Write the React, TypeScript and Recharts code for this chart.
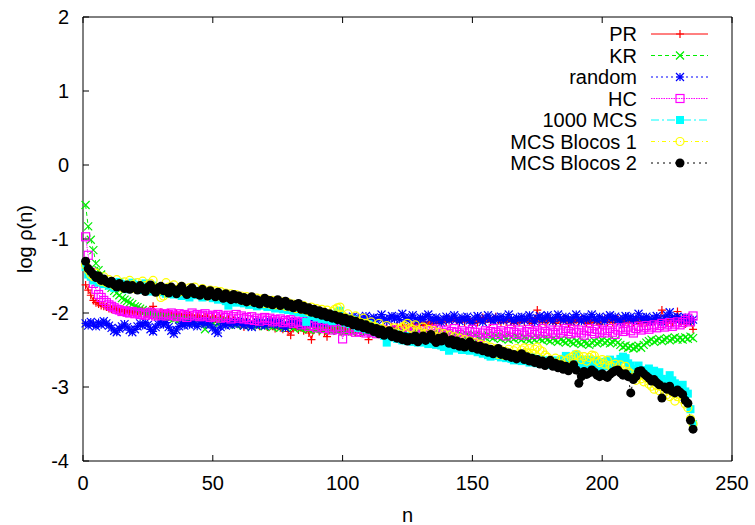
import React from 'react';
import { LineChart, Line, XAxis, YAxis } from 'recharts';

// log rho(n) values in hundredths, n = 1..235
const PR = [
  -162,-169,-176,-183,-186,-188,-190,-191,-192,-194,
  -195,-194,-196,-197,-195,-198,-196,-199,-197,-199,
  -198,-200,-197,-201,-199,-198,-191,-200,-202,-199,
  -201,-203,-200,-202,-204,-201,-203,-205,-202,-204,
  -203,-205,-207,-204,-206,-208,-205,-207,-209,-206,
  -208,-210,-207,-209,-211,-208,-212,-210,-213,-211,
  -214,-219,-212,-215,-217,-213,-216,-218,-215,-217,
  -219,-216,-218,-221,-217,-220,-222,-218,-225,-230,
  -221,-219,-223,-220,-224,-222,-227,-236,-223,-221,
  -225,-222,-226,-232,-223,-220,-224,-221,-225,-222,
  -224,-221,-225,-222,-226,-223,-227,-224,-221,-236,
  -223,-226,-222,-225,-221,-224,-220,-223,-219,-222,
  -218,-221,-217,-220,-216,-219,-215,-218,-214,-217,
  -213,-216,-212,-215,-211,-214,-210,-213,-209,-212,
  -208,-211,-207,-210,-213,-209,-212,-208,-211,-214,
  -210,-213,-209,-206,-211,-208,-212,-209,-205,-210,
  -213,-209,-212,-208,-211,-214,-210,-213,-209,-212,
  -208,-211,-214,-210,-196,-212,-209,-213,-210,-207,
  -211,-214,-209,-212,-208,-211,-215,-210,-213,-209,
  -212,-208,-211,-214,-210,-213,-209,-212,-215,-211,
  -208,-212,-209,-213,-210,-207,-211,-214,-210,-213,
  -209,-212,-208,-211,-214,-210,-213,-209,-212,-210,
  -207,-211,-196,-210,-213,-209,-212,-208,-198,-211,
  -207,-215,-210,-212,-222,
];

const KR = [
  -54,-83,-101,-115,-133,-142,-148,-156,-160,-163,
  -166,-170,-173,-176,-180,-182,-184,-186,-188,-191,
  -192,-194,-196,-198,-199,-201,-202,-203,-204,-205,
  -206,-205,-207,-206,-208,-207,-209,-208,-210,-209,
  -211,-209,-212,-210,-213,-211,-222,-212,-210,-213,
  -211,-214,-212,-210,-213,-215,-212,-214,-216,-213,
  -215,-217,-214,-216,-218,-215,-217,-214,-216,-218,
  -215,-217,-219,-216,-218,-220,-217,-219,-216,-218,
  -220,-217,-219,-221,-218,-220,-222,-219,-221,-223,
  -220,-222,-219,-221,-223,-220,-222,-224,-221,-223,
  -225,-222,-224,-221,-223,-225,-222,-224,-226,-223,
  -225,-227,-224,-226,-228,-225,-227,-224,-226,-228,
  -225,-227,-229,-226,-228,-225,-227,-229,-226,-228,
  -230,-227,-229,-231,-228,-230,-227,-229,-231,-228,
  -230,-232,-229,-231,-233,-230,-232,-229,-231,-233,
  -230,-232,-234,-231,-233,-230,-232,-234,-231,-233,
  -235,-232,-234,-236,-233,-235,-232,-234,-236,-233,
  -235,-237,-234,-236,-233,-235,-237,-234,-236,-238,
  -235,-237,-239,-236,-238,-240,-237,-239,-241,-238,
  -240,-242,-239,-241,-243,-240,-238,-241,-239,-237,
  -240,-238,-241,-239,-237,-240,-243,-246,-244,-247,
  -245,-248,-246,-244,-247,-243,-240,-238,-236,-239,
  -237,-235,-238,-236,-234,-237,-235,-233,-236,-234,
  -236,-233,-235,-232,-234,
];

const RANDOM = [
  -214,-217,-212,-215,-218,-213,-216,-211,-214,-217,
  -220,-224,-226,-221,-218,-215,-219,-223,-226,-222,
  -218,-214,-217,-213,-216,-222,-225,-219,-215,-212,
  -216,-213,-219,-224,-228,-223,-218,-214,-217,-213,
  -216,-212,-215,-218,-214,-211,-215,-212,-216,-220,
  -224,-227,-219,-214,-217,-213,-216,-212,-215,-211,
  -214,-217,-213,-216,-219,-215,-212,-216,-213,-217,
  -214,-211,-215,-212,-216,-213,-217,-220,-216,-212,
  -215,-211,-214,-217,-213,-210,-214,-211,-215,-212,
  -209,-213,-210,-214,-211,-208,-212,-209,-206,-210,
  -207,-211,-208,-205,-209,-206,-210,-207,-204,-208,
  -209,-206,-210,-207,-202,-208,-211,-207,-204,-208,
  -205,-209,-201,-206,-210,-207,-203,-208,-211,-206,
  -209,-205,-202,-207,-210,-206,-209,-213,-208,-205,
  -210,-207,-203,-208,-211,-206,-209,-205,-210,-213,
  -207,-204,-209,-212,-207,-203,-208,-211,-206,-209,
  -205,-210,-207,-202,-208,-211,-206,-209,-205,-210,
  -207,-203,-208,-212,-207,-204,-209,-206,-203,-208,
  -211,-206,-202,-207,-210,-205,-208,-211,-206,-202,
  -208,-211,-205,-209,-206,-202,-207,-210,-205,-208,
  -211,-206,-203,-208,-205,-209,-212,-207,-204,-208,
  -205,-210,-207,-201,-206,-209,-205,-208,-211,-207,
  -204,-208,-212,-207,-203,-199,-206,-209,-205,-207,
  -210,-206,-208,-211,-209,
];

const HC = [
  -97,-122,-145,-160,-168,-175,-179,-183,-186,-189,
  -191,-193,-195,-196,-198,-197,-199,-200,-198,-201,
  -199,-202,-200,-203,-201,-199,-202,-204,-200,-203,
  -201,-204,-202,-200,-203,-205,-201,-204,-202,-206,
  -203,-200,-204,-202,-205,-203,-201,-204,-206,-203,
  -205,-202,-207,-204,-206,-203,-208,-205,-202,-207,
  -204,-208,-206,-209,-205,-210,-207,-211,-208,-206,
  -210,-207,-212,-209,-211,-208,-213,-210,-212,-209,
  -214,-211,-213,-216,-212,-215,-218,-214,-217,-220,
  -215,-218,-221,-217,-220,-223,-219,-222,-218,-235,
  -221,-224,-219,-223,-226,-222,-225,-221,-227,-224,
  -226,-223,-228,-225,-222,-227,-224,-229,-226,-223,
  -228,-225,-230,-226,-223,-228,-225,-222,-227,-231,
  -226,-229,-224,-228,-225,-222,-227,-230,-226,-223,
  -228,-225,-221,-226,-229,-224,-227,-231,-225,-222,
  -226,-230,-233,-227,-224,-228,-225,-221,-226,-229,
  -224,-227,-231,-225,-222,-226,-229,-223,-227,-230,
  -225,-222,-226,-229,-224,-227,-221,-225,-228,-223,
  -226,-229,-223,-227,-224,-221,-225,-228,-222,-226,
  -223,-227,-230,-224,-221,-225,-228,-222,-226,-223,
  -227,-224,-221,-226,-229,-223,-220,-225,-222,-219,
  -224,-227,-221,-218,-223,-220,-217,-222,-219,-216,
  -220,-217,-214,-219,-216,-213,-218,-215,-212,-216,
  -213,-210,-207,-212,-204,
];

const MCS1000 = [
  -138,-148,-151,-156,-153,-159,-156,-161,-158,-163,
  -160,-166,-162,-158,-165,-161,-168,-163,-159,-166,
  -162,-169,-164,-160,-167,-171,-163,-168,-165,-172,
  -168,-174,-166,-171,-175,-168,-173,-177,-170,-176,
  -179,-171,-176,-170,-175,-179,-172,-177,-174,-180,
  -176,-182,-175,-180,-184,-190,-177,-183,-186,-179,
  -183,-187,-181,-189,-184,-188,-191,-184,-190,-186,
  -192,-186,-190,-194,-187,-192,-195,-189,-196,-191,
  -197,-192,-199,-194,-200,-212,-198,-204,-199,-206,
  -202,-208,-201,-209,-204,-211,-205,-199,-197,-210,
  -213,-207,-215,-209,-217,-220,-213,-219,-222,-215,
  -223,-218,-226,-221,-228,-231,-240,-226,-233,-227,
  -235,-229,-237,-231,-238,-233,-239,-232,-240,-235,
  -234,-240,-242,-235,-241,-243,-236,-244,-246,-239,
  -251,-242,-248,-241,-247,-250,-243,-249,-251,-245,
  -250,-253,-247,-255,-249,-257,-259,-251,-256,-258,
  -260,-254,-261,-256,-262,-264,-257,-263,-265,-259,
  -264,-267,-260,-266,-268,-262,-269,-264,-270,-265,
  -270,-264,-272,-266,-262,-258,-267,-271,-262,-256,
  -263,-268,-272,-263,-270,-273,-264,-271,-274,-266,
  -272,-265,-263,-270,-273,-266,-262,-259,-261,-268,
  -271,-276,-278,-271,-277,-279,-282,-275,-284,-278,
  -286,-280,-289,-292,-293,-284,-291,-295,-298,-302,
  -297,-306,-309,-330,-350,
];

const BLOCOS1 = [
  -135,-142,-148,-151,-146,-153,-157,-151,-159,-155,
  -160,-163,-155,-161,-166,-158,-164,-156,-162,-167,
  -159,-165,-157,-163,-168,-160,-156,-166,-170,-179,
  -177,-159,-165,-170,-162,-168,-172,-164,-170,-174,
  -166,-172,-165,-171,-175,-167,-173,-177,-169,-175,
  -170,-177,-171,-178,-173,-179,-174,-180,-175,-181,
  -177,-183,-178,-184,-179,-185,-180,-186,-181,-187,
  -182,-188,-183,-189,-184,-190,-185,-191,-186,-192,
  -188,-194,-189,-195,-190,-196,-198,-192,-199,-194,
  -200,-195,-202,-196,-203,-198,-195,-193,-192,-203,
  -206,-201,-208,-210,-204,-211,-213,-207,-214,-216,
  -212,-218,-220,-214,-221,-223,-217,-224,-226,-220,
  -227,-222,-219,-217,-214,-220,-222,-216,-223,-226,
  -219,-228,-222,-230,-224,-232,-226,-234,-228,-236,
  -230,-238,-232,-240,-234,-242,-236,-244,-238,-246,
  -240,-248,-242,-250,-244,-252,-246,-254,-248,-256,
  -250,-257,-252,-249,-256,-251,-248,-255,-250,-247,
  -254,-248,-255,-249,-246,-250,-252,-257,-260,-264,
  -267,-261,-268,-263,-270,-265,-262,-260,-258,-256,
  -258,-263,-259,-265,-260,-257,-258,-264,-267,-263,
  -269,-264,-271,-273,-269,-276,-270,-277,-272,-279,
  -282,-287,-291,-283,-289,-293,-288,-296,-299,-303,
  -298,-305,-300,-307,-310,-313,-307,-319,-313,-310,
  -317,-323,-328,-343,-350,
];

const BLOCOS2 = [
  -130,-140,-144,-148,-152,-150,-156,-154,-158,-160,
  -157,-162,-165,-160,-164,-167,-162,-168,-163,-166,
  -169,-163,-167,-171,-165,-162,-168,-172,-166,-164,
  -170,-167,-173,-165,-169,-174,-168,-164,-171,-175,
  -169,-166,-174,-171,-176,-168,-173,-177,-170,-175,
  -178,-172,-176,-180,-174,-179,-182,-175,-181,-177,
  -183,-179,-185,-181,-178,-186,-182,-188,-184,-180,
  -187,-183,-189,-185,-182,-190,-186,-184,-191,-188,
  -193,-189,-187,-195,-191,-196,-193,-199,-195,-201,
  -197,-203,-199,-205,-201,-207,-203,-209,-205,-211,
  -207,-213,-209,-216,-211,-218,-214,-220,-216,-222,
  -219,-225,-221,-228,-223,-230,-226,-224,-232,-228,
  -234,-230,-236,-232,-238,-233,-236,-231,-239,-235,
  -231,-237,-233,-229,-236,-240,-234,-238,-232,-237,
  -241,-236,-243,-238,-245,-240,-246,-242,-239,-247,
  -244,-249,-245,-251,-247,-253,-249,-255,-251,-248,
  -256,-252,-258,-254,-260,-256,-262,-258,-255,-263,
  -259,-265,-261,-267,-263,-269,-265,-271,-267,-264,
  -272,-268,-274,-270,-276,-272,-278,-274,-270,-277,
  -295,-286,-279,-283,-281,-277,-280,-284,-286,-282,
  -285,-287,-283,-280,-278,-277,-281,-284,-282,-286,
  -308,-290,-286,-279,-278,-282,-285,-288,-292,-290,
  -294,-297,-315,-300,-303,-299,-306,-308,-304,-307,
  -310,-318,-322,-345,-357,
];

const X_TICKS = [0, 50, 100, 150, 200, 250];
const Y_TICKS = [-4, -3, -2, -1, 0, 1, 2];

type Shape = 'plus' | 'cross' | 'star' | 'box' | 'fbox' | 'circle' | 'fcircle';

const SERIES: { key: string; name: string; values: number[]; color: string; dash?: string; shape: Shape }[] = [
  { key: 'pr', name: 'PR', values: PR, color: '#ff0000', shape: 'plus' },
  { key: 'kr', name: 'KR', values: KR, color: '#00ee00', dash: '4 3', shape: 'cross' },
  { key: 'rnd', name: 'random', values: RANDOM, color: '#0000ff', dash: '2 3', shape: 'star' },
  { key: 'hc', name: 'HC', values: HC, color: '#ff00ff', dash: '1.5 1', shape: 'box' },
  { key: 'm1000', name: '1000 MCS', values: MCS1000, color: '#00ffff', dash: '8 3 2 3', shape: 'fbox' },
  { key: 'b1', name: 'MCS Blocos 1', values: BLOCOS1, color: '#ffff00', dash: '4 3 1 3', shape: 'circle' },
  { key: 'b2', name: 'MCS Blocos 2', values: BLOCOS2, color: '#000000', dash: '2 4', shape: 'fcircle' },
];

const data = PR.map((_, i) => {
  const row: Record<string, number> = { n: i + 1 };
  SERIES.forEach((s) => {
    row[s.key] = s.values[i] / 100;
  });
  return row;
});

const FONT = '"Liberation Sans", Arial, Helvetica, sans-serif';

function Marker({ shape, cx, cy, color }: { shape: Shape; cx: number; cy: number; color: string }) {
  const s = 4;
  if (cx == null || cy == null || isNaN(cx) || isNaN(cy)) return null;
  switch (shape) {
    case 'plus':
      return <path d={`M${cx - s},${cy}H${cx + s}M${cx},${cy - s}V${cy + s}`} stroke={color} strokeWidth={1.2} fill="none" />;
    case 'cross':
      return <path d={`M${cx - s},${cy - s}L${cx + s},${cy + s}M${cx - s},${cy + s}L${cx + s},${cy - s}`} stroke={color} strokeWidth={1.2} fill="none" />;
    case 'star':
      return (
        <path
          d={`M${cx - s},${cy}H${cx + s}M${cx},${cy - s}V${cy + s}M${cx - s},${cy - s}L${cx + s},${cy + s}M${cx - s},${cy + s}L${cx + s},${cy - s}`}
          stroke={color}
          strokeWidth={1.2}
          fill="none"
        />
      );
    case 'box':
      return <rect x={cx - s} y={cy - s} width={2 * s} height={2 * s} stroke={color} strokeWidth={1.2} fill="none" />;
    case 'fbox':
      return <rect x={cx - s} y={cy - s} width={2 * s} height={2 * s} fill={color} stroke="none" />;
    case 'circle':
      return <circle cx={cx} cy={cy} r={s} stroke={color} strokeWidth={1.2} fill="none" />;
    case 'fcircle':
      return <circle cx={cx} cy={cy} r={4.5} fill={color} stroke="none" />;
  }
  return null;
}

const PLOT = { left: 83, right: 732, top: 17, bottom: 461 };
const W = 755;
const H = 525;
const TICK = 6;
const AX = 1; // axis thickness reserved for each axis

const XTickBottom = (p: any) => (
  <g>
    <line x1={p.x} x2={p.x} y1={PLOT.bottom} y2={PLOT.bottom - TICK} stroke="#000" />
    <text x={p.x} y={PLOT.bottom + 22} textAnchor="middle" dy="0.35em" fontSize={20} fontFamily={FONT} fill="#000">
      {p.payload.value}
    </text>
  </g>
);
const XTickTop = (p: any) => <line x1={p.x} x2={p.x} y1={PLOT.top} y2={PLOT.top + TICK} stroke="#000" />;
const YTickLeft = (p: any) => (
  <g>
    <line x1={PLOT.left} x2={PLOT.left + TICK} y1={p.y} y2={p.y} stroke="#000" />
    <text x={PLOT.left - 14} y={p.y} textAnchor="end" dy="0.35em" fontSize={20} fontFamily={FONT} fill="#000">
      {p.payload.value}
    </text>
  </g>
);
const YTickRight = (p: any) => <line x1={PLOT.right} x2={PLOT.right - TICK} y1={p.y} y2={p.y} stroke="#000" />;

function LegendOverlay() {
  const textRight = 637;
  const lineX1 = 651;
  const lineX2 = 708;
  const y0 = 34;
  const step = 21.5;
  return (
    <svg width={W} height={H} style={{ position: 'absolute', left: 0, top: 0, pointerEvents: 'none' }}>
      {SERIES.map((s, i) => {
        const y = y0 + i * step;
        return (
          <g key={s.key}>
            <text x={textRight} y={y} textAnchor="end" dy="0.35em" fontSize={20} fontFamily={FONT} fill="#000">
              {s.name}
            </text>
            <line x1={lineX1} x2={lineX2} y1={y} y2={y} stroke={s.color} strokeWidth={1} strokeDasharray={s.dash} />
            <Marker shape={s.shape} cx={(lineX1 + lineX2) / 2 + 0.5} cy={y} color={s.color} />
          </g>
        );
      })}
      <text
        x={25}
        y={(PLOT.top + PLOT.bottom) / 2}
        textAnchor="middle"
        dy="0.35em"
        fontSize={20}
        fontFamily={FONT}
        fill="#000"
        transform={`rotate(-90 25 ${(PLOT.top + PLOT.bottom) / 2})`}
      >
        log ρ(n)
      </text>
      <text x={(PLOT.left + PLOT.right) / 2} y={515} textAnchor="middle" dy="0.35em" fontSize={20} fontFamily={FONT} fill="#000">
        n
      </text>
    </svg>
  );
}

export default function App() {
  return (
    <div style={{ position: 'absolute', left: 0, top: 0, width: W, height: H, background: '#fff' }}>
      <LineChart
        width={W}
        height={H}
        data={data}
        margin={{ top: PLOT.top - AX, right: W - PLOT.right - AX, bottom: H - PLOT.bottom - AX, left: PLOT.left - AX }}
      >
        <XAxis
          xAxisId="b"
          dataKey="n"
          type="number"
          domain={[0, 250]}
          ticks={X_TICKS}
          interval={0}
          height={AX}
          tickSize={1}
          tickMargin={0}
          tickLine={false}
          axisLine={{ stroke: '#000' }}
          tick={XTickBottom}
        />
        <XAxis
          xAxisId="t"
          orientation="top"
          dataKey="n"
          type="number"
          domain={[0, 250]}
          ticks={X_TICKS}
          interval={0}
          height={AX}
          tickSize={1}
          tickMargin={0}
          tickLine={false}
          axisLine={{ stroke: '#000' }}
          tick={XTickTop}
        />
        <YAxis
          yAxisId="l"
          type="number"
          domain={[-4, 2]}
          ticks={Y_TICKS}
          interval={0}
          width={AX}
          tickSize={1}
          tickMargin={0}
          tickLine={false}
          axisLine={{ stroke: '#000' }}
          tick={YTickLeft}
        />
        <YAxis
          yAxisId="r"
          orientation="right"
          type="number"
          domain={[-4, 2]}
          ticks={Y_TICKS}
          interval={0}
          width={AX}
          tickSize={1}
          tickMargin={0}
          tickLine={false}
          axisLine={{ stroke: '#000' }}
          tick={YTickRight}
        />
        {SERIES.map((s) => (
          <Line
            key={s.key}
            xAxisId="b"
            yAxisId="l"
            type="linear"
            dataKey={s.key}
            name={s.name}
            stroke={s.color}
            strokeWidth={1}
            strokeDasharray={s.dash}
            isAnimationActive={false}
            activeDot={false}
            dot={(p: any) => <Marker key={`${s.key}-${p.index}`} shape={s.shape} cx={p.cx} cy={p.cy} color={s.color} />}
          />
        ))}
      </LineChart>
      <LegendOverlay />
    </div>
  );
}
